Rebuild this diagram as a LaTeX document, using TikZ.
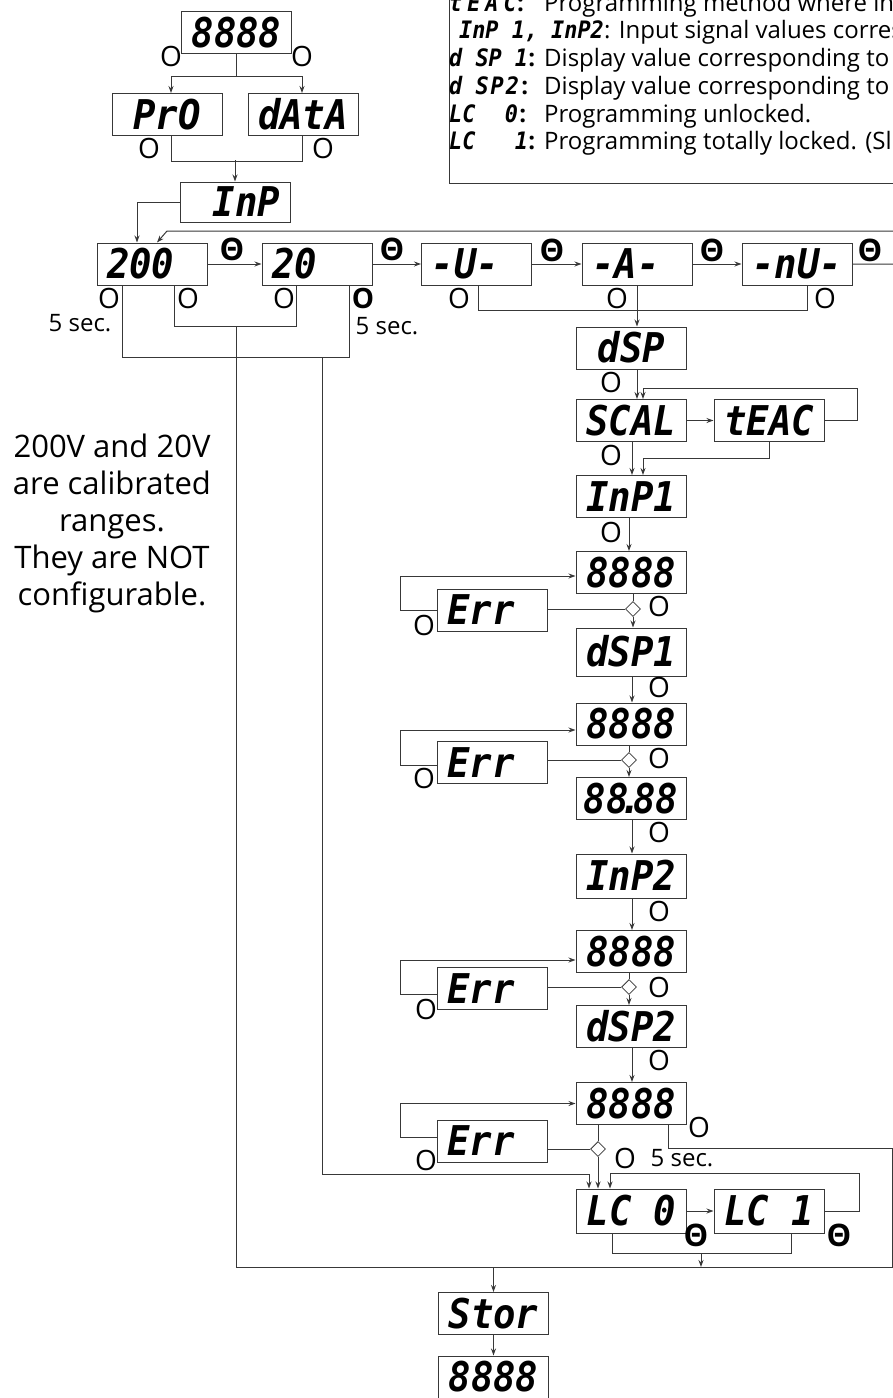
\documentclass[tikz,border=0pt]{standalone}
\usepackage{fontspec}
\setmainfont{Open Sans}
\newfontfamily\seg{DejaVu Sans Mono}[FakeStretch=0.91]
\usetikzlibrary{arrows.meta,shapes.geometric}
\definecolor{ln}{gray}{0.22}
\newcommand{\segbig}{\seg\bfseries\itshape\fontsize{41pt}{41pt}\selectfont}
\newcommand{\segsmall}{\seg\bfseries\itshape\fontsize{24pt}{24pt}\selectfont}
\tikzset{
  disp/.style={draw=ln, line width=1pt, minimum width=110pt, minimum height=42pt,
    inner sep=0pt, font=\segbig, text height=29.9pt, text depth=0pt},
  con/.style={draw=ln, line width=1pt},
  arr/.style={con, -{Stealth[length=7pt,width=5pt]}},
  dia/.style={diamond, draw=ln, fill=white, line width=0.8pt, minimum width=15pt,
    minimum height=15pt, inner sep=0pt},
  olbl/.style={font=\fontsize{28pt}{28pt}\selectfont, inner sep=0pt},
  oblbl/.style={font=\bfseries\fontsize{28pt}{28pt}\selectfont, inner sep=0pt},
  th/.style={font=\bfseries\fontsize{31pt}{31pt}\selectfont, inner sep=0pt},
  sec/.style={font=\fontsize{24pt}{24pt}\selectfont, inner sep=0pt},
  lseg/.style={font=\segsmall, inner sep=0pt, anchor=base west},
  ltxt/.style={font=\fontsize{24pt}{24pt}\selectfont, inner sep=0pt, anchor=base west},
}
\begin{document}
\begin{tikzpicture}[x=1pt,y=-1pt]
\useasboundingbox (0,0) rectangle (893,1398);
\clip (0,0) rectangle (893,1398);

% ---------- legend ----------
\draw[con] (449,-5) rectangle (900,183);
\node[lseg] (l1s) at (449,11) {t\kern5pt E\kern5pt A\kern5pt C};
\node[ltxt] (l1c) at (l1s.base east) {\textbf{:}};
\node[ltxt] (l1t) at (544,11) {Programming method where in};
\node[lseg] (l2s) at (459,38.5) {InP~1,~InP2};
\node[ltxt] (l2t) at (l2s.base east) {: Input signal values corres};
\node[lseg] (l3s) at (449,66) {d~SP~1};
\node[ltxt] (l3c) at (l3s.base east) {\textbf{:}};
\node[ltxt] (l3t) at (544,66) {Display value corresponding to};
\node[lseg] (l4s) at (449,94) {d~S\kern2pt P\kern2pt 2};
\node[ltxt] (l4c) at ([xshift=2pt]l4s.base east) {\textbf{:}};
\node[ltxt] (l4t) at (544,94) {Display value corresponding to};
\node[lseg] (l5s) at (449,122) {LC~~\kern3pt 0};
\node[ltxt] (l5c) at ([xshift=1pt]l5s.base east) {\textbf{:}};
\node[ltxt] (l5t) at (544,122) {Programming unlocked.};
\node[lseg] (l6s) at (449,149) {LC~~~1};
\node[ltxt] (l6c) at (l6s.base east) {\textbf{:}};
\node[ltxt] (l6t) at (544,149) {Programming totally locked. (Sl};

% ---------- display boxes ----------
\node[disp] (top) at (236.5,32.5) {8888};
\node[disp] (pro) at (167,114.5) {PrO};
\node[disp] (data) at (303,114.5) {dAtA};
\node[disp, minimum height=40pt] (inp) at (235,202) {\phantom{8}InP};
\node[disp] (r200) at (152,264) {200\phantom{8}};
\node[disp] (r20) at (317,264) {20\phantom{88}};
\node[disp] (vU) at (476.5,264) {-U-\phantom{8}};
\node[disp] (vA) at (637,264) {-A-\phantom{8}};
\node[disp] (vnU) at (797,264) {-nU-};
\node[disp] (dsp) at (631.5,348) {dSP};
\node[disp] (scal) at (631,420.5) {SCAL};
\node[disp] (teac) at (769,420.5) {tEAC};
\node[disp] (inp1) at (631,496.5) {InP1};
\node[disp] (m1) at (631,572.5) {8888};
\node[disp] (err1) at (492,610) {Err\phantom{8}};
\node[disp, minimum height=48pt] (dsp1) at (631,652) {dSP1};
\node[disp] (m2) at (631,724) {8888};
\node[disp] (err2) at (492,762.5) {Err\phantom{8}};
\node[disp] (dec) at (631,798.5) {88\kern-.22em.\kern-.22em88};
\node[disp, minimum height=44pt] (inp2) at (631,876) {InP2};
\node[disp] (m3) at (631,951.5) {8888};
\node[disp] (err3) at (492,988.5) {Err\phantom{8}};
\node[disp] (dsp2) at (631,1026.5) {dSP2};
\node[disp] (m4) at (631,1103.5) {8888};
\node[disp] (err4) at (492,1141) {Err\phantom{8}};
\node[disp, minimum height=44pt] (lc0) at (631.5,1211) {LC~0};
\node[disp, minimum height=44pt] (lc1) at (769,1211) {LC~1};
\node[disp] (stor) at (493.5,1313.5) {Stor};
\node[disp] (fin) at (493.5,1377) {8888};

\node[dia] (d1) at (633,609) {};
\node[dia] (d2) at (629,760) {};
\node[dia] (d3) at (629,987) {};
\node[dia] (d4) at (598,1149) {};

% ---------- connectors ----------
\draw[con] (top.south) -- ++(0,22) coordinate (j1);
\draw[arr] (j1) -| ([xshift=4pt]pro.north);
\draw[arr] (j1) -| ([xshift=-1pt]data.north);
\draw[con] ([xshift=4pt]pro.south) -- ++(0,25) -| ([xshift=-1pt]data.south);
\draw[arr] (inp.north |- 0,160) -- (inp.north);
\draw[arr] (inp.west) -| ([xshift=-15pt]r200.north);

\draw[arr] (r200.east) -- (r20.west);
\draw[arr] (r20.east) -- (vU.west);
\draw[arr] (vU.east) -- (vA.west);
\draw[arr] (vA.east) -- (vnU.west);
\coordinate (rt) at (898,231);
\coordinate (rl) at (167,231);
\draw[arr] (vnU.east) -| (rt) -- (rl) -- ([xshift=5pt]r200.north);

\draw[con] ([xshift=-30pt]r200.south) -- ++(0,72) -| ([xshift=32pt]r20.south);
\draw[con] ([xshift=22pt]r200.south) -- ++(0,41) -| ([xshift=-21pt]r20.south);
\coordinate (ja) at (236,326);
\coordinate (jb) at (322,357);
\coordinate (bl) at (236,1267);
\coordinate (br) at (892,1267);
\coordinate (bt) at (892,1148);
\draw[con] (ja) -- (bl) -- (br) -- (bt) -| ([xshift=37pt]m4.south);
\draw[arr] (jb) |- (589,1174) -- ([xshift=-42.5pt]lc0.north);
\draw[arr] (stor.north |- bl) -- (stor.north);
\draw[arr] (stor.south) -- (fin.north);

\draw[con] ([xshift=1.5pt]vU.south) -- ++(0,25) -| ([xshift=10pt]vnU.south);
\draw[arr] (vA.south) -- (vA.south |- dsp.north);
\draw[arr] (vA.south |- dsp.south) -- (vA.south |- scal.north);
\draw[arr] (scal.east) -- (teac.west);
\draw[arr] (teac.east) -- ++(33,0) |- (643,388) -- ([xshift=12pt]scal.north);
\draw[arr] ([xshift=1pt]scal.south) -- ([xshift=1pt]inp1.north);
\draw[arr] (teac.south) -- ++(0,16) -| ([xshift=12pt]inp1.north);

\draw[arr] ([xshift=-2pt]inp1.south) -- ([xshift=-2pt]m1.north);
\draw[con] (m1.south -| d1) -- (d1.north);
\draw[arr] (d1.south) -- (d1.south |- dsp1.north);
\draw[con] (err1.east |- d1) -- (d1.west);
\draw[arr] (err1.west) -- ++(-36,0) |- ([yshift=-3.5pt]m1.west);

\draw[arr] ([xshift=1pt]dsp1.south) -- ([xshift=1pt]m2.north);
\draw[con] (m2.south -| d2) -- (d2.north);
\draw[arr] (d2.south) -- (d2.south |- dec.north);
\draw[con] (err2.east |- d2) -- (d2.west);
\draw[arr] ([yshift=-2.5pt]err2.west) -- ++(-36,0) |- ([yshift=-6pt]m2.west);

\draw[arr] ([xshift=1pt]dec.south) -- ([xshift=1pt]inp2.north);
\draw[arr] ([xshift=1pt]inp2.south) -- ([xshift=1pt]m3.north);
\draw[con] (m3.south -| d3) -- (d3.north);
\draw[arr] (d3.south) -- (d3.south |- dsp2.north);
\draw[con] (err3.east |- d3) -- (d3.west);
\draw[arr] ([yshift=-5.5pt]err3.west) -- ++(-36,0) |- ([yshift=-8.5pt]m3.west);

\draw[arr] ([xshift=1pt]dsp2.south) -- ([xshift=1pt]m4.north);
\draw[con] (m4.south -| d4) -- (d4.north);
\draw[arr] (d4.south) -- (d4.south |- lc0.north);
\draw[con] (err4.east |- d4) -- (d4.west);
\draw[arr] ([yshift=4pt]err4.west) -- ++(-36,0) |- (m4.west);

\draw[arr] (lc0.east) -- (lc1.west);
\draw[arr] (lc1.east) -- ++(35,0) |- (610,1173) -- ([xshift=-21.5pt]lc0.north);
\draw[con] ([xshift=-19.5pt]lc0.south) -- ++(0,20) -| ([xshift=22pt]lc1.south);
\coordinate (jl) at (701,1253);
\draw[arr] (jl) -- (jl |- bl);

% ---------- labels ----------
\node[olbl] (o1) at (171,56) {O};
\node[olbl] (o2) at (302,56) {O};
\node[olbl] (o3) at (149,148) {O};
\node[olbl] (o4) at (323,148) {O};
\node[olbl] (o5) at (109,298) {O};
\node[olbl] (o6) at (188,298) {O};
\node[olbl] (o7) at (284,298) {O};
\node[oblbl] (o8) at (363,298) {O};
\node[olbl] (o9) at (459,298) {O};
\node[olbl] (o10) at (617,298) {O};
\node[olbl] (o11) at (825,298) {O};
\node[olbl] (o12) at (611,382) {O};
\node[olbl] (o13) at (611,455) {O};
\node[olbl] (o14) at (611,532) {O};
\node[olbl] (o15) at (659,606) {O};
\node[olbl] (o16) at (424,625) {O};
\node[olbl] (o17) at (659,687) {O};
\node[olbl] (o18) at (659,758) {O};
\node[olbl] (o19) at (424,778) {O};
\node[olbl] (o20) at (659,832) {O};
\node[olbl] (o21) at (659,911) {O};
\node[olbl] (o22) at (659,987) {O};
\node[olbl] (o23) at (426,1009) {O};
\node[olbl] (o24) at (659,1060) {O};
\node[olbl] (o25) at (699,1127) {O};
\node[olbl] (o26) at (625,1158) {O};
\node[olbl] (o27) at (426,1160) {O};

\node[th] (t1) at (232,249) {Θ};
\node[th] (t2) at (392,249) {Θ};
\node[th] (t3) at (552,250) {Θ};
\node[th] (t4) at (712,250) {Θ};
\node[th] (t5) at (870,250) {Θ};
\node[th] (t6) at (696,1235) {Θ};
\node[th] (t7) at (839,1235) {Θ};

\node[sec] (s1) at (80,323) {5 sec.};
\node[sec] (s2) at (387,326) {5 sec.};
\node[sec] (s3) at (682,1158) {5 sec.};

\node[align=center, font=\fontsize{31pt}{37pt}\selectfont, inner sep=0pt] (note) at (112,523)
  {200V and 20V\\are calibrated\\ranges.\\They are NOT\\configurable.};
\end{tikzpicture}
\end{document}
